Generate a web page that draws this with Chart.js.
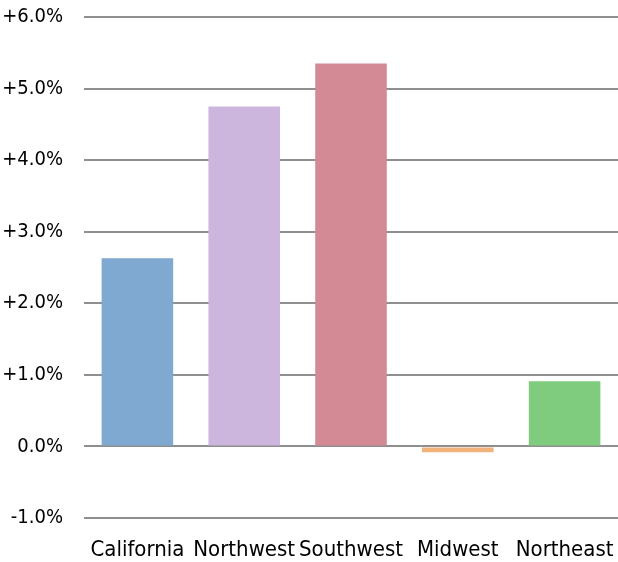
<!DOCTYPE html>
<html>
<head>
<meta charset="utf-8">
<script src="https://cdn.jsdelivr.net/npm/chart.js@4/dist/chart.umd.min.js"></script>
<style>
html,body{margin:0;padding:0;background:#fff;}
#wrap{width:618px;height:562px;position:relative;}
</style>
</head>
<body>
<div id="wrap"><canvas id="c" width="618" height="562"></canvas></div>
<script>
const categories = ["California", "Northwest", "Southwest", "Midwest", "Northeast"];
const growthValues = [2.63, 4.75, 5.35, -0.08, 0.91];
const barColors = ["#7FA9D0", "#CDB6DE", "#D48A95", "#F2B27C", "#80CC7E"];
const yTickMin = -1;
const yTickMax = 6;

const chart = new Chart(document.getElementById('c'), {
  type: 'bar',
  data: {
    labels: categories,
    datasets: [{
      data: growthValues,
      backgroundColor: barColors,
      borderWidth: 0,
      categoryPercentage: 1.0,
      barPercentage: 0.67
    }]
  },
  options: {
    responsive: false,
    animation: false,
    devicePixelRatio: 1,
    layout: { padding: { top: 0, right: 0, bottom: 0, left: 0 } },
    plugins: { legend: { display: false }, tooltip: { enabled: false }, title: { display: false } },
    scales: {
      x: {
        grid: { display: false, drawTicks: false },
        border: { display: false },
        afterFit: s => { s.height = 44; s.paddingLeft = 0; s.paddingRight = 0; },
        ticks: { color: '#000', padding: 19, maxRotation: 0, autoSkip: false, font: { family: 'DejaVu Sans Condensed', size: 22 } }
      },
      y: {
        min: yTickMin, max: yTickMax,
        grid: { color: '#8f8f8f', lineWidth: 2, drawTicks: false },
        border: { display: false },
        afterFit: s => { s.width = 84; s.paddingTop = 17; s.paddingBottom = 0; },
        ticks: {
          stepSize: 1, color: '#000', padding: 21,
          font: { family: 'DejaVu Sans Condensed', size: 20 },
          callback: v => (v > 0 ? '+' : '') + v.toFixed(1) + '%'
        }
      }
    }
  }
});
</script>
</body>
</html>
